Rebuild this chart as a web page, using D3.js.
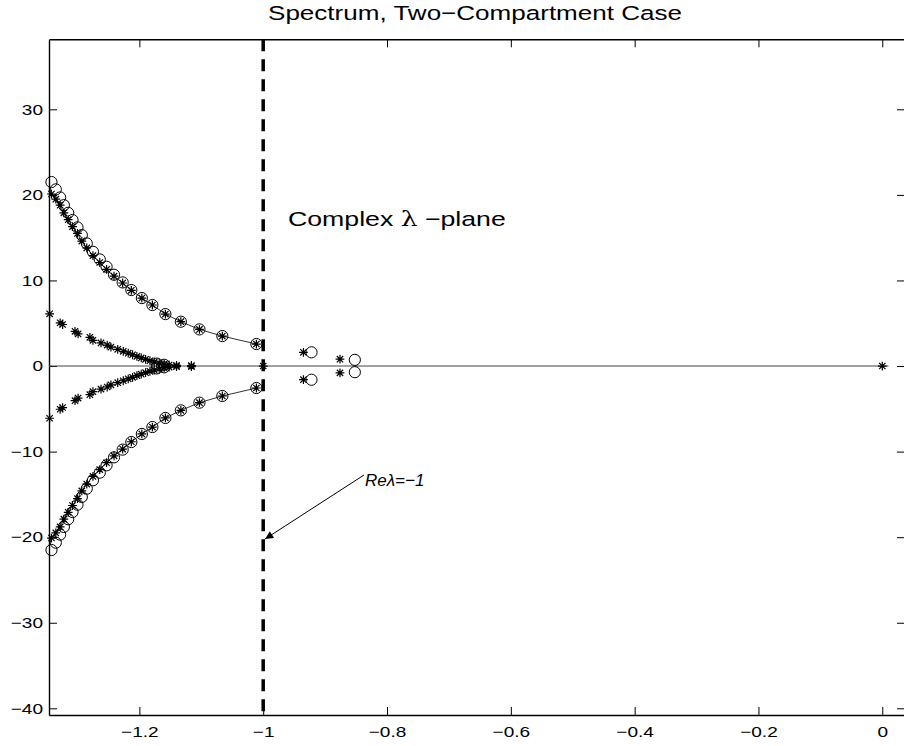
<!DOCTYPE html>
<html>
<head>
<meta charset="utf-8">
<script src="https://cdn.jsdelivr.net/npm/d3@7"></script>
<style>
  body { margin: 0; background: #fff; }
  text { font-family: "Liberation Sans", Arial, Helvetica, sans-serif; }
</style>
</head>
<body>
<div id="chart"></div>
<script>
// outer branch (upper half), circles and stars; lower half is the conjugate
const outerX = [-1.011, -1.066, -1.103, -1.133, -1.158, -1.179, -1.196, -1.213, -1.227, -1.241, -1.253,
                -1.264, -1.275, -1.285, -1.293, -1.300, -1.308, -1.315, -1.322, -1.328, -1.335, -1.342]
const outerCircleY = [2.57, 3.50, 4.28, 5.18, 6.07, 7.13, 7.94, 8.88, 9.77, 10.67, 11.60,
                      12.46, 13.35, 14.33, 15.30, 16.20, 17.06, 17.90, 18.80, 19.70, 20.64, 21.50]
const outerStarY = [2.57, 3.50, 4.28, 5.18, 6.07, 7.13, 7.94, 8.85, 9.70, 10.50, 11.30,
                    12.10, 12.90, 13.80, 14.60, 15.50, 16.30, 17.10, 17.90, 18.80, 19.50, 20.10]

// inner branch (upper half), stars only
const innerX = [-1.345, -1.328, -1.324, -1.304, -1.299, -1.280, -1.275, -1.262, -1.252, -1.246, -1.235, -1.226,
                -1.218, -1.211, -1.204, -1.197, -1.190, -1.183, -1.176, -1.168, -1.160, -1.152, -1.140, -1.116]
const innerY = [6.10, 5.05, 4.85, 4.05, 3.75, 3.35, 3.00, 2.70, 2.45, 2.20, 1.95, 1.72,
                1.50, 1.32, 1.12, 0.95, 0.78, 0.62, 0.48, 0.35, 0.22, 0.12, 0.08, 0.06]
const innerCircleX = [-1.172, -1.160]
const innerCircleY = [0.28, 0.15]

// isolated eigenvalues
const extraStarX = [-1, -0.935, -0.935, -0.876, -0.876, 0]
const extraStarY = [0, 1.6, -1.6, 0.8, -0.8, 0]
const extraCircleX = [-0.922, -0.922, -0.852, -0.852]
const extraCircleY = [1.6, -1.6, 0.72, -0.72]

const xTicks = [-1.2, -1, -0.8, -0.6, -0.4, -0.2, 0]
const xTickLabels = ["−1.2", "−1", "−0.8", "−0.6", "−0.4", "−0.2", "0"]
const yTicks = [30, 20, 10, 0, -10, -20, -30, -40]
const yTickLabels = ["30", "20", "10", "0", "−10", "−20", "−30", "−40"]

const width = 904
const height = 746
const plotLeft = 49, plotRight = 905, plotTop = 39.3, plotBottom = 715
const stretch = 1.27   // the original text is drawn wider than Arial

const svg = d3.select("#chart").append("svg")
    .attr("width", width)
    .attr("height", height)

const x = d3.scaleLinear().domain([-1.346, 0.0367]).range([plotLeft, plotRight])
const y = d3.scaleLinear().domain([-40.78, 38.18]).range([plotBottom, plotTop])

// title
svg.append("text")
    .attr("transform", `translate(475,20) scale(${stretch},1)`)
    .attr("text-anchor", "middle")
    .attr("font-size", 20.5)
    .text("Spectrum, Two−Compartment Case")

// axes (ticks point inward)
const xFmt = (d, i) => xTickLabels[i]
const yFmt = (d, i) => yTickLabels[i]

svg.append("g").attr("transform", `translate(0,${plotBottom})`)
    .call(d3.axisBottom(x).tickValues(xTicks).tickFormat(xFmt).tickSize(-8).tickPadding(11.3).tickSizeOuter(0))
svg.append("g").attr("transform", `translate(${plotLeft},0)`)
    .call(d3.axisLeft(y).tickValues(yTicks).tickFormat(yFmt).tickSize(-8).tickPadding(6 / stretch).tickSizeOuter(0))
svg.append("g").attr("transform", `translate(0,${plotTop})`)
    .call(d3.axisTop(x).tickValues(xTicks).tickFormat("").tickSize(-8).tickSizeOuter(0))
svg.append("g").attr("transform", `translate(${plotRight},0)`)
    .call(d3.axisRight(y).tickValues(yTicks).tickFormat("").tickSize(-8).tickSizeOuter(0))

svg.selectAll(".domain").attr("stroke", "#000").attr("stroke-width", 1.4)
svg.selectAll(".tick line").attr("stroke", "#000").attr("stroke-width", 1)
svg.selectAll(".tick text").attr("font-size", 15).attr("fill", "#000")
    .attr("font-family", "Liberation Sans, Arial, sans-serif")
    .attr("transform", `scale(${stretch},1)`)

const plot = svg.append("g")

// real axis line
plot.append("line")
    .attr("x1", x(-1.346)).attr("x2", x(0.01))
    .attr("y1", y(0)).attr("y2", y(0))
    .attr("stroke", "#444").attr("stroke-width", 1)

// Re(lambda) = -1
plot.append("line")
    .attr("x1", x(-1)).attr("x2", x(-1))
    .attr("y1", plotTop).attr("y2", plotBottom)
    .attr("stroke", "#000").attr("stroke-width", 3.5)
    .attr("stroke-dasharray", "12,8")

// lines through outer branches
const line = d3.line().x(d => x(d[0])).y(d => y(d[1]))
const upper = outerX.map((v, i) => [v, outerStarY[i]])
const lower = outerX.map((v, i) => [v, -outerStarY[i]])
plot.append("path").attr("d", line(upper)).attr("fill", "none").attr("stroke", "#000").attr("stroke-width", 0.8)
plot.append("path").attr("d", line(lower)).attr("fill", "none").attr("stroke", "#000").attr("stroke-width", 0.8)

// markers
const starPath = s => `M${-s},0H${s}M0,${-s}V${s}M${-s * 0.72},${-s * 0.72}L${s * 0.72},${s * 0.72}M${-s * 0.72},${s * 0.72}L${s * 0.72},${-s * 0.72}`

const stars = []
outerX.forEach((v, i) => { stars.push([v, outerStarY[i]]); stars.push([v, -outerStarY[i]]) })
innerX.forEach((v, i) => { stars.push([v, innerY[i]]); stars.push([v, -innerY[i]]) })
extraStarX.forEach((v, i) => stars.push([v, extraStarY[i]]))

const circles = []
outerX.forEach((v, i) => { circles.push([v, outerCircleY[i]]); circles.push([v, -outerCircleY[i]]) })
innerCircleX.forEach((v, i) => { circles.push([v, innerCircleY[i]]); circles.push([v, -innerCircleY[i]]) })
extraCircleX.forEach((v, i) => circles.push([v, extraCircleY[i]]))

plot.append("g").selectAll("circle")
    .data(circles)
    .join("circle")
    .attr("cx", d => x(d[0]))
    .attr("cy", d => y(d[1]))
    .attr("r", 5.6)
    .attr("fill", "none")
    .attr("stroke", "#000")
    .attr("stroke-width", 1)

plot.append("g").selectAll("path")
    .data(stars)
    .join("path")
    .attr("transform", d => `translate(${x(d[0])},${y(d[1])})`)
    .attr("d", starPath(4.4))
    .attr("fill", "none")
    .attr("stroke", "#000")
    .attr("stroke-width", 1.2)

// annotations
const label = svg.append("text")
    .attr("transform", `translate(288,226) scale(${stretch},1)`)
    .attr("font-size", 21)
label.append("tspan").text("Complex ")
label.append("tspan").attr("font-family", "DejaVu Serif, serif").text("λ")
label.append("tspan").text(" −plane")

svg.append("defs").append("marker")
    .attr("id", "arrow")
    .attr("viewBox", "0 0 10 10")
    .attr("refX", 10).attr("refY", 5)
    .attr("markerWidth", 10).attr("markerHeight", 8)
    .attr("markerUnits", "userSpaceOnUse")
    .attr("orient", "auto")
    .append("path").attr("d", "M0,0L10,5L0,10z").attr("fill", "#000")

svg.append("line")
    .attr("x1", 364).attr("y1", 475)
    .attr("x2", x(-1) + 2).attr("y2", y(-20.2))
    .attr("stroke", "#000").attr("stroke-width", 1)
    .attr("marker-end", "url(#arrow)")

svg.append("text")
    .attr("x", 365).attr("y", 486)
    .attr("font-size", 17)
    .attr("font-style", "italic")
    .text("Reλ=−1")
</script>
</body>
</html>
